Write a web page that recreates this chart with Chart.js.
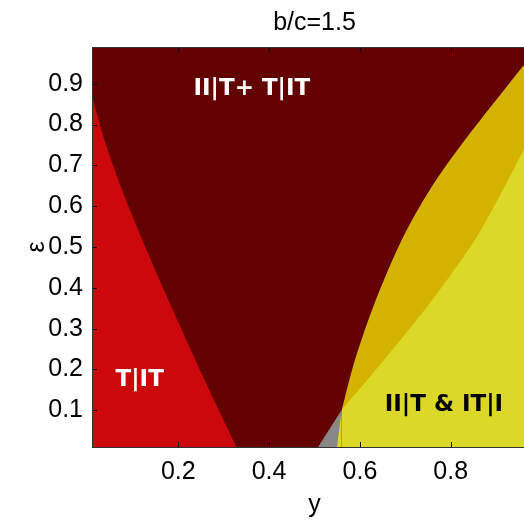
<!DOCTYPE html>
<html>
<head>
<meta charset="utf-8">
<script src="https://cdn.jsdelivr.net/npm/chart.js@4.4.1/dist/chart.umd.min.js"></script>
<style>
  html, body { margin: 0; padding: 0; background: #fff; overflow: hidden; }
  #wrap { width: 560px; height: 520px; }
</style>
</head>
<body>
<div id="wrap"><canvas id="regions" width="560" height="520"></canvas></div>
<script>
// axis ticks
const xTicks = [0.2, 0.4, 0.6, 0.8];
const yTicks = [0.1, 0.2, 0.3, 0.4, 0.5, 0.6, 0.7, 0.8, 0.9];

// boundary T|IT  /  II|T+ T|IT
const splitX   = [0.01, 0.0375, 0.076, 0.130, 0.191, 0.258, 0.328];
const splitEps = [0.870, 0.762, 0.640, 0.493, 0.338, 0.174, 0.01];

// boundary dark red / gold, from the triple point upwards
const goldX   = [0.560, 0.589, 0.635, 0.692, 0.754, 0.831, 0.961, 0.99];
const goldEps = [0.101, 0.223, 0.370, 0.517, 0.640, 0.762, 0.946, 0.988];

// grey wedge under the triple point
const greyX   = [0.508, 0.560];
const greyEps = [0.01, 0.101];

// boundary gold / II|T & IT|I (foot + upper curve)
const yellowFootX   = [0.5495, 0.560];
const yellowFootEps = [0.01, 0.101];
const yellowX   = [0.560, 0.653, 0.759, 0.853, 0.915, 0.961, 0.99];
const yellowEps = [0.101, 0.223, 0.370, 0.517, 0.640, 0.738, 0.796];

const topX   = [0.01, 0.99];
const topEps = [0.99, 0.99];

// region names
const regionLabels = [
  { text: 'II|T+ T|IT', x: 0.362, y: 0.886, color: '#ffffff' },
  { text: 'T|IT',       x: 0.115, y: 0.174, color: '#ffffff' },
  { text: 'II|T & IT|I', x: 0.785, y: 0.112, color: '#000000' }
];

function pts(xs, ys) {
  return xs.map((x, i) => ({ x: x, y: ys[i] }));
}

function area(label, xs, ys, color, order, tension) {
  return {
    label: label,
    data: pts(xs, ys),
    backgroundColor: color,
    borderColor: color,
    borderWidth: 0,
    pointRadius: 0,
    tension: tension,
    fill: 'start',
    order: order
  };
}

const frame = {
  id: 'frame',
  afterDatasetsDraw(chart) {
    const { ctx, chartArea: a, scales } = chart;
    ctx.save();
    ctx.strokeStyle = '#000';
    ctx.lineWidth = 1;
    ctx.beginPath();
    xTicks.forEach(v => {
      const p = Math.round(scales.x.getPixelForValue(v)) + 0.5;
      ctx.moveTo(p, a.bottom); ctx.lineTo(p, a.bottom - 5);
      ctx.moveTo(p, a.top); ctx.lineTo(p, a.top + 5);
    });
    yTicks.forEach(v => {
      const p = Math.round(scales.y.getPixelForValue(v)) + 0.5;
      ctx.moveTo(a.left, p); ctx.lineTo(a.left + 5, p);
      ctx.moveTo(a.right, p); ctx.lineTo(a.right - 5, p);
    });
    ctx.stroke();
    ctx.strokeStyle = '#333';
    ctx.strokeRect(Math.round(a.left) + 0.5, Math.round(a.top) + 0.5,
                   Math.round(a.right - a.left), Math.round(a.bottom - a.top));

    ctx.font = 'bold 23px "DejaVu Sans"';
    ctx.textAlign = 'center';
    ctx.textBaseline = 'middle';
    regionLabels.forEach(l => {
      ctx.fillStyle = l.color;
      ctx.fillText(l.text, scales.x.getPixelForValue(l.x), scales.y.getPixelForValue(l.y));
    });
    ctx.restore();
  }
};

new Chart(document.getElementById('regions'), {
  type: 'line',
  data: {
    datasets: [
      area('II|T & IT|I', yellowX, yellowEps, 'rgb(219,216,39)', 1, 0.3),
      area('II|T & IT|I foot', yellowFootX, yellowFootEps, 'rgb(219,216,39)', 1, 0),
      area('grey', greyX, greyEps, 'rgb(136,136,136)', 2, 0),
      area('gold', goldX, goldEps, 'rgb(211,178,0)', 3, 0.3),
      area('T|IT', splitX, splitEps, 'rgb(204,8,12)', 4, 0.3),
      area('II|T+ T|IT', topX, topEps, 'rgb(99,0,0)', 5, 0)
    ]
  },
  options: {
    responsive: false,
    animation: false,
    devicePixelRatio: 1,
    layout: { padding: { right: 23 } },
    plugins: {
      legend: { display: false },
      tooltip: { enabled: false },
      title: {
        display: true,
        text: 'b/c=1.5',
        fullSize: false,
        color: '#000',
        font: { family: '"Liberation Sans"', size: 25, weight: 'normal' },
        padding: { top: 8, bottom: 9 }
      }
    },
    scales: {
      x: {
        type: 'linear',
        min: 0.01,
        max: 0.99,
        afterBuildTicks: s => { s.ticks = xTicks.map(v => ({ value: v })); },
        afterFit: s => { s.height = 73; },
        grid: { drawOnChartArea: false, drawTicks: false },
        border: { display: false },
        ticks: {
          color: '#000',
          padding: 10,
          maxRotation: 0,
          font: { family: '"Liberation Sans"', size: 25 },
          callback: v => v.toFixed(1)
        },
        title: {
          display: true,
          text: 'y',
          color: '#000',
          font: { family: '"Liberation Sans"', size: 25 },
          padding: { top: 0, bottom: 0 }
        }
      },
      y: {
        type: 'linear',
        min: 0.01,
        max: 0.99,
        afterBuildTicks: s => { s.ticks = yTicks.map(v => ({ value: v })); },
        afterFit: s => { s.width = 92; },
        grid: { drawOnChartArea: false, drawTicks: false },
        border: { display: false },
        ticks: {
          color: '#000',
          padding: 9,
          font: { family: '"Liberation Sans"', size: 25 },
          callback: v => v.toFixed(1)
        },
        title: {
          display: true,
          text: 'ε',
          color: '#000',
          font: { family: '"Liberation Sans"', size: 25 },
          padding: { top: 22, bottom: 0 }
        }
      }
    }
  },
  plugins: [frame]
});
</script>
</body>
</html>
